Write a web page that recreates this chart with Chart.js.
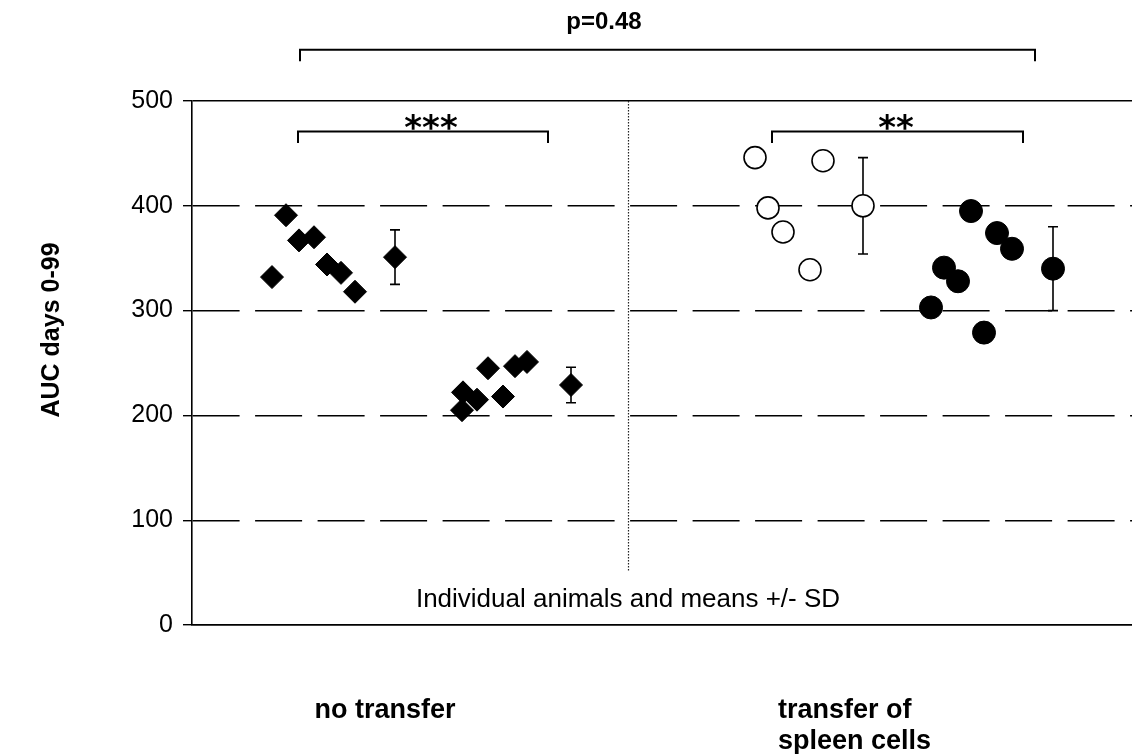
<!DOCTYPE html>
<html>
<head>
<meta charset="utf-8">
<script src="https://cdn.jsdelivr.net/npm/chart.js@4.4.1/dist/chart.umd.min.js"></script>
<style>
  html, body { margin: 0; padding: 0; background: #ffffff; }
  #wrap { width: 1132px; height: 754px; }
</style>
</head>
<body>
<div id="wrap"><canvas id="c" width="1132" height="754"></canvas></div>
<script>
// ---------- data ----------
const categories = ['no transfer', ['transfer of', 'spleen cells']];
const categoryX = [19.3, 58.6];

const yTicks = [0, 100, 200, 300, 400, 500];

// no transfer, group 1 (diamonds, high)
const noTransferHighX = [8.0, 9.4, 10.7, 12.2, 13.5, 14.9, 16.3];
const noTransferHighY = [332, 391, 367, 370, 344, 336, 318];
// no transfer, group 2 (diamonds, low)
const noTransferLowX = [27.0, 27.1, 28.5, 29.6, 31.1, 32.3, 33.5];
const noTransferLowY = [205, 222, 215, 245, 218, 247, 251];
// transfer of spleen cells, open circles
const transferOpenX = [56.3, 57.6, 59.1, 61.8, 63.1];
const transferOpenY = [446, 398, 375, 339, 443];
// transfer of spleen cells, filled circles
const transferFilledX = [73.9, 75.2, 76.6, 77.9, 79.2, 80.5, 82.0];
const transferFilledY = [303, 341, 328, 395, 279, 374, 359];

// means +/- SD
const meanX  = [20.3, 37.9, 67.1, 86.1];
const meanY  = [351, 229, 400, 340];
const meanSD = [26, 17, 46, 40];

// significance brackets
const bracketX1 = [10.8, 10.6, 58.0];
const bracketX2 = [84.3, 35.6, 83.1];
const bracketY  = [549, 471, 471];
const bracketDrop = [11, 11, 11];
const bracketText = ['p=0.48', '***', '**'];
const bracketTextX = [41.2, 23.9, 70.4];

const dividerX = 43.6;
const dividerY = [500, 52];
const noteText = 'Individual animals and means +/- SD';
const noteY = 24;

const yTitle = 'AUC days 0-99';

// ---------- helpers ----------
const pts = (xs, ys) => xs.map((x, i) => ({x: x, y: ys[i]}));

const annotations = {
  id: 'annotations',
  beforeDatasetsDraw(chart) {
    const {ctx, scales: {x, y}} = chart;
    ctx.save();
    // divider (dotted)
    ctx.strokeStyle = '#222';
    ctx.lineWidth = 1.2;
    ctx.setLineDash([1.5, 1.5]);
    ctx.beginPath();
    ctx.moveTo(Math.round(x.getPixelForValue(dividerX)) + 0.5, y.getPixelForValue(dividerY[0]));
    ctx.lineTo(Math.round(x.getPixelForValue(dividerX)) + 0.5, y.getPixelForValue(dividerY[1]));
    ctx.stroke();
    ctx.setLineDash([]);
    // error bars
    ctx.strokeStyle = '#000';
    ctx.lineWidth = 1.6;
    for (let i = 0; i < meanX.length; i++) {
      const px = x.getPixelForValue(meanX[i]);
      const top = y.getPixelForValue(meanY[i] + meanSD[i]);
      const bot = y.getPixelForValue(meanY[i] - meanSD[i]);
      ctx.beginPath();
      ctx.moveTo(px, top); ctx.lineTo(px, bot);
      ctx.moveTo(px - 5, top); ctx.lineTo(px + 5, top);
      ctx.moveTo(px - 5, bot); ctx.lineTo(px + 5, bot);
      ctx.stroke();
    }
    ctx.restore();
  },
  afterDraw(chart) {
    const {ctx, scales: {x, y}, chartArea} = chart;
    ctx.save();
    ctx.fillStyle = '#000';
    ctx.strokeStyle = '#000';
    ctx.lineWidth = 2;
    // brackets
    for (let i = 0; i < bracketText.length; i++) {
      const x1 = x.getPixelForValue(bracketX1[i]);
      const x2 = x.getPixelForValue(bracketX2[i]);
      const by = y.getPixelForValue(bracketY[i]);
      const bd = y.getPixelForValue(bracketY[i] - bracketDrop[i]);
      ctx.beginPath();
      ctx.moveTo(x1, bd); ctx.lineTo(x1, by); ctx.lineTo(x2, by); ctx.lineTo(x2, bd);
      ctx.stroke();
      const tx = x.getPixelForValue(bracketTextX[i]);
      ctx.textAlign = 'center';
      if (i === 0) {
        ctx.font = 'bold 24px "Liberation Sans", Arial, sans-serif';
        ctx.textBaseline = 'middle';
        ctx.fillText(bracketText[i], tx, by - 27);
      } else {
        ctx.font = 'bold 34px "DejaVu Sans", sans-serif';
        ctx.textBaseline = 'alphabetic';
        ctx.fillText(bracketText[i], tx, by + 8);
      }
    }
    // note text
    ctx.font = '26px "Liberation Sans", Arial, sans-serif';
    ctx.textAlign = 'center';
    ctx.textBaseline = 'middle';
    ctx.fillText(noteText, x.getPixelForValue(dividerX), y.getPixelForValue(noteY));
    // category labels
    ctx.font = 'bold 27px "Liberation Sans", Arial, sans-serif';
    ctx.textBaseline = 'middle';
    const base = chartArea.bottom;
    ctx.textAlign = 'center';
    ctx.fillText(categories[0], x.getPixelForValue(categoryX[0]), base + 86);
    ctx.textAlign = 'left';
    categories[1].forEach((t, k) => ctx.fillText(t, x.getPixelForValue(categoryX[1]), base + 86 + k * 31));
    // y title
    ctx.font = 'bold 25px "Liberation Sans", Arial, sans-serif';
    ctx.textAlign = 'center';
    ctx.textBaseline = 'middle';
    ctx.translate(52, 330);
    ctx.rotate(-Math.PI / 2);
    ctx.fillText(yTitle, 0, 0);
    ctx.restore();
  }
};

const diamond = {pointStyle: 'rectRot', pointRadius: 11.5, pointBackgroundColor: '#000', pointBorderColor: '#000', pointBorderWidth: 1, showLine: false};

new Chart(document.getElementById('c'), {
  type: 'scatter',
  data: {
    datasets: [
      Object.assign({label: 'no transfer high', data: pts(noTransferHighX, noTransferHighY)}, diamond),
      Object.assign({label: 'no transfer low', data: pts(noTransferLowX, noTransferLowY)}, diamond),
      {label: 'transfer open', data: pts(transferOpenX, transferOpenY), pointStyle: 'circle', pointRadius: 11, pointBackgroundColor: '#fff', pointBorderColor: '#000', pointBorderWidth: 1.6},
      {label: 'transfer filled', data: pts(transferFilledX, transferFilledY), pointStyle: 'circle', pointRadius: 11.5, pointBackgroundColor: '#000', pointBorderColor: '#000', pointBorderWidth: 1},
      {label: 'means', data: pts(meanX, meanY),
        pointStyle: ['rectRot', 'rectRot', 'circle', 'circle'],
        pointRadius: [11.5, 11.5, 11, 11.5],
        pointBackgroundColor: ['#000', '#000', '#fff', '#000'],
        pointBorderColor: '#000',
        pointBorderWidth: [1, 1, 1.6, 1]}
    ]
  },
  options: {
    responsive: false,
    animation: false,
    devicePixelRatio: 1,
    layout: {autoPadding: false, padding: {top: 101, right: 0, bottom: 0, left: 0}},
    plugins: {legend: {display: false}, tooltip: {enabled: false}},
    scales: {
      x: {
        type: 'linear', min: 0, max: 94,
        grid: {display: false},
        border: {display: true, color: '#000', width: 1.6},
        ticks: {display: false},
        afterFit(s) { s.height = 129; }
      },
      y: {
        min: 0, max: 500,
        afterBuildTicks(s) { s.ticks = yTicks.map(v => ({value: v})); },
        ticks: {color: '#000', font: {family: '"Liberation Sans", Arial, sans-serif', size: 25}, padding: 10},
        grid: {color: '#000', lineWidth: 1.4, tickLength: 9, tickColor: '#000', tickWidth: 1.4},
        border: {display: true, color: '#000', width: 1.6,
          dash: (c) => (c.tick && c.tick.value > 0 && c.tick.value < 500) ? [47, 15.5] : []},
        afterFit(s) { s.width = 192; }
      }
    }
  },
  plugins: [annotations]
});
</script>
</body>
</html>
